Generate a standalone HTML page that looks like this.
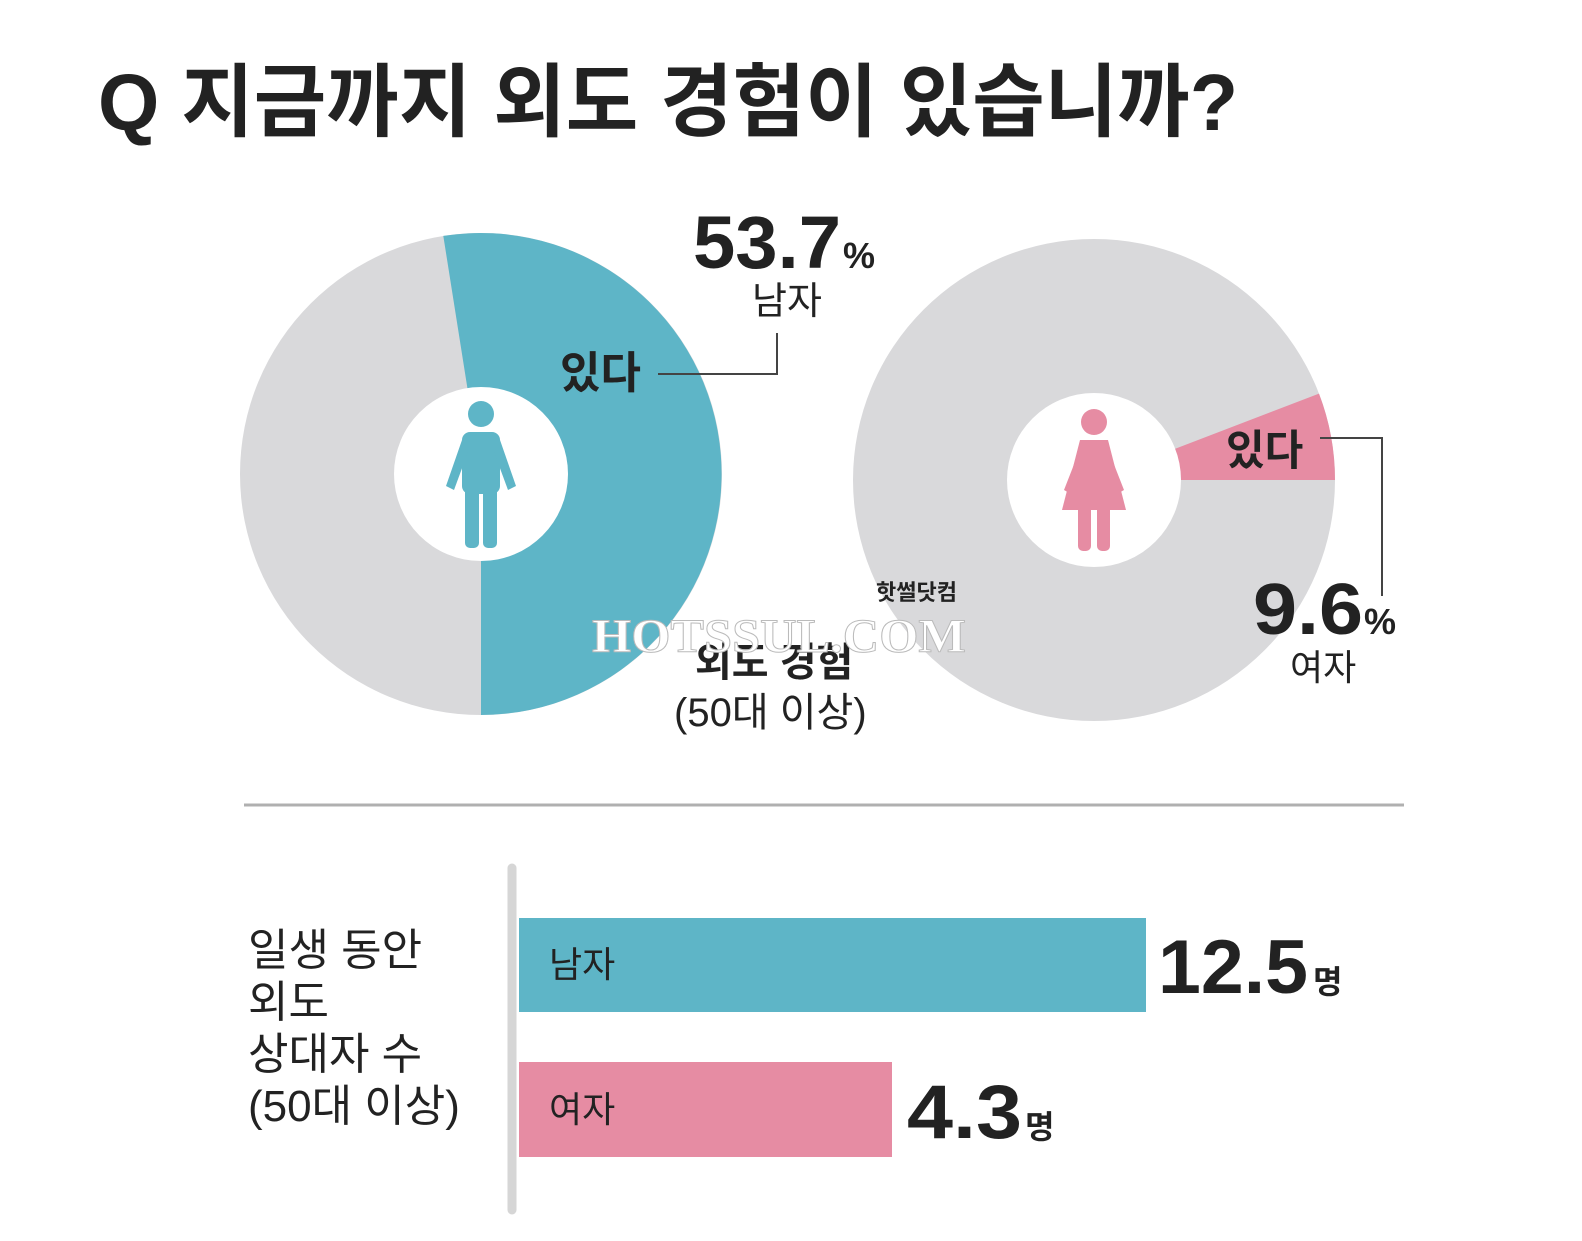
<!DOCTYPE html>
<html><head><meta charset="utf-8"><style>
body{margin:0;background:#fff;}
svg text{font-family:"Liberation Sans","Noto Sans CJK KR",sans-serif;fill:#222;}
</style></head><body>
<svg width="1582" height="1236" viewBox="0 0 1582 1236" xmlns="http://www.w3.org/2000/svg">
<rect width="1582" height="1236" fill="#fff"/>
<text x="98" y="130" font-size="80" font-weight="bold" fill="#1e1e1e" textLength="1140" lengthAdjust="spacingAndGlyphs">Q 지금까지 외도 경험이 있습니까?</text>

<!-- left pie -->
<circle cx="481" cy="474" r="241" fill="#d9d9db"/>
<path d="M481 474 L443.3 235.9 A241 241 0 1 1 481 715 Z" fill="#5eb5c7"/>
<circle cx="481" cy="474" r="87" fill="#fff"/>
<g fill="#5eb5c7">
<circle cx="481" cy="414" r="13"/>
<rect x="462" y="432" width="38" height="62" rx="8"/>
<rect x="465" y="470" width="14" height="78" rx="5"/>
<rect x="483" y="470" width="14" height="78" rx="5"/>
<path d="M462 440 L446 486 L454 490 L468 452 Z"/>
<path d="M500 440 L516 486 L508 490 L494 452 Z"/>
</g>
<text x="560" y="388" font-size="44" font-weight="bold">있다</text>
<polyline points="658,374 777,374 777,333" fill="none" stroke="#444" stroke-width="2"/>
<text x="693" y="268" font-size="74" font-weight="bold" textLength="148" lengthAdjust="spacingAndGlyphs">53.7</text>
<text x="843" y="268" font-size="36" font-weight="bold">%</text>
<text x="752" y="314" font-size="38">남자</text>

<!-- right pie -->
<circle cx="1094" cy="480" r="241" fill="#d9d9db"/>
<path d="M1094 480 L1319 393.6 A241 241 0 0 1 1335 480 Z" fill="#e68ca3"/>
<circle cx="1094" cy="480" r="87" fill="#fff"/>
<g fill="#e68ca3">
<circle cx="1094" cy="422" r="13"/>
<path d="M1080 440 L1108 440 L1126 510 L1062 510 Z"/>
<rect x="1078" y="505" width="13" height="46" rx="5"/>
<rect x="1097" y="505" width="13" height="46" rx="5"/>
<path d="M1082 444 L1064 490 L1071 494 L1090 452 Z"/>
<path d="M1106 444 L1124 490 L1117 494 L1098 452 Z"/>
</g>
<text x="1226" y="465" font-size="42" font-weight="bold">있다</text>
<polyline points="1320,438 1382,438 1382,596" fill="none" stroke="#444" stroke-width="2"/>
<text x="1253" y="634" font-size="72" font-weight="bold" textLength="110" lengthAdjust="spacingAndGlyphs">9.6</text>
<text x="1364" y="634" font-size="36" font-weight="bold">%</text>
<text x="1290" y="680" font-size="36">여자</text>

<text x="695" y="676" font-size="40" font-weight="bold">외도 경험</text>
<text x="674" y="726" font-size="40">(50대 이상)</text>
<text x="876" y="600" font-size="22" font-weight="bold">핫썰닷컴</text>
<text x="592" y="652" font-size="48" font-weight="bold" fill="#fff" stroke="#bbb" stroke-width="1" style="font-family:'Liberation Serif',serif;fill:#fff" textLength="374" lengthAdjust="spacingAndGlyphs">HOTSSUL.COM</text>

<line x1="244" y1="805" x2="1404" y2="805" stroke="#b0b0b0" stroke-width="3"/>

<line x1="512" y1="868" x2="512" y2="1210" stroke="#d6d6d6" stroke-width="9" stroke-linecap="round"/>
<rect x="519" y="918" width="627" height="94" fill="#5eb5c7"/>
<rect x="519" y="1062" width="373" height="95" fill="#e68ca3"/>
<text x="549" y="977" font-size="36" fill="#333">남자</text>
<text x="549" y="1122" font-size="36" fill="#333">여자</text>
<text x="1158" y="993" font-size="76" font-weight="bold" textLength="150" lengthAdjust="spacingAndGlyphs">12.5</text>
<text x="1313" y="993" font-size="32" font-weight="bold">명</text>
<text x="907" y="1138" font-size="76" font-weight="bold" textLength="115" lengthAdjust="spacingAndGlyphs">4.3</text>
<text x="1025" y="1138" font-size="32" font-weight="bold">명</text>

<text x="248" y="965" font-size="44" fill="#333">일생 동안</text>
<text x="248" y="1017" font-size="44" fill="#333">외도</text>
<text x="248" y="1069" font-size="44" fill="#333">상대자 수</text>
<text x="248" y="1121" font-size="44" fill="#333">(50대 이상)</text>
</svg>
</body></html>
